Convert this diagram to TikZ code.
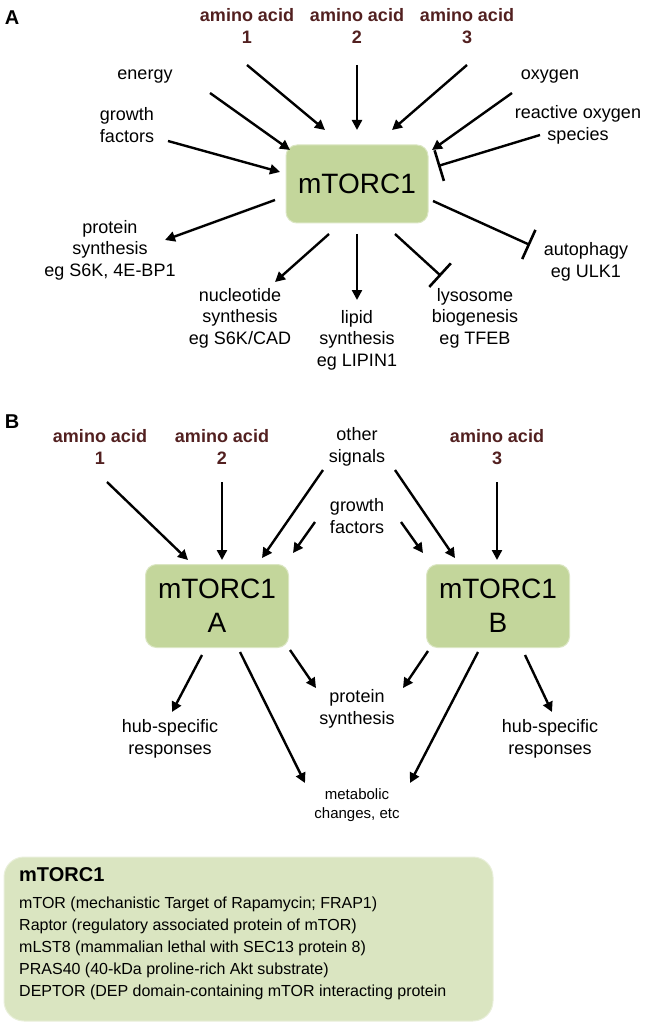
\documentclass[tikz,border=0pt]{standalone}
\usepackage{fontspec}
\setmainfont{Liberation Sans}
\usetikzlibrary{arrows.meta}
\definecolor{boxgreen}{HTML}{C3D69B}
\definecolor{panelgreen}{HTML}{DAE5C1}
\definecolor{aacol}{HTML}{522020}
\begin{document}
\begin{tikzpicture}[x=1pt,y=-1pt,
  lbl/.style={font=\fontsize{18}{21.5}\selectfont, align=center, inner sep=0pt},
  aa/.style={font=\fontsize{18}{22}\selectfont\bfseries, text=aacol, align=center, inner sep=0pt},
  small/.style={font=\fontsize{15}{19}\selectfont, align=center, inner sep=0pt},
  panel/.style={font=\fontsize{20}{24}\selectfont\bfseries, inner sep=0pt},
  hub/.style={rounded corners=11pt, fill=boxgreen, draw=boxgreen!60!white, line width=1pt,
     minimum width=142pt, minimum height=78pt, font=\fontsize{28}{34}\selectfont, align=center, inner sep=0pt},
  arr/.style={-{Triangle[length=10pt,width=10pt]}, line width=2.4pt},
  inh/.style={-{Bar[width=32pt,line width=2.6pt]}, line width=2.4pt}]
\useasboundingbox (0,0) rectangle (660,1024);
% ---------------- Panel A ----------------
\node[panel] (pA) at (12,18) {A};
\node[hub] (m) at (357,184) {mTORC1};
\node[aa] (a1) at (247,26) {amino acid\\1};
\node[aa] (a2) at (357,26) {amino acid\\2};
\node[aa] (a3) at (467,26) {amino acid\\3};
\node[lbl] (en) at (145,77) {energy};
\node[lbl] (ox) at (550,77) {oxygen};
\node[lbl] (gf) at (127,125) {growth\\factors};
\node[lbl] (ros) at (578,125) {reactive oxygen\\species};
\node[lbl] (ps) at (110,250) {protein\\synthesis\\eg S6K, 4E-BP1};
\node[lbl] (ns) at (240,318) {nucleotide\\synthesis\\eg S6K/CAD};
\node[lbl] (ls) at (357,340) {lipid\\synthesis\\eg LIPIN1};
\node[lbl] (lb) at (475,318) {lysosome\\biogenesis\\eg TFEB};
\node[lbl] (au) at (586,262) {autophagy\\eg ULK1};
\coordinate (a1s) at (247,65);  \coordinate (a1e) at (325,130);
\coordinate (a2s) at (357,65);  \coordinate (a2e) at (357,130);
\coordinate (a3s) at (467,65);  \coordinate (a3e) at (392,130);
\coordinate (ens) at (210,93);  \coordinate (ene) at (290,150);
\coordinate (gfs) at (168,141); \coordinate (gfe) at (280,172);
\coordinate (oxs) at (512,93);  \coordinate (oxe) at (432,150);
\coordinate (ross) at (540,135); \coordinate (rose) at (438,166);
\coordinate (pss) at (275,200); \coordinate (pse) at (165,240);
\coordinate (nss) at (329,234); \coordinate (nse) at (275,282);
\coordinate (lss) at (357,234); \coordinate (lse) at (357,300);
\coordinate (lbs) at (395,234); \coordinate (lbe) at (441,276);
\coordinate (aus) at (433,201); \coordinate (aue) at (530,245);
\draw[arr] (a1s) -- (a1e);
\draw[arr] (a2s) -- (a2e);
\draw[arr] (a3s) -- (a3e);
\draw[arr] (ens) -- (ene);
\draw[arr] (gfs) -- (gfe);
\draw[arr] (oxs) -- (oxe);
\draw[inh] (ross) -- (rose);
\draw[arr] (pss) -- (pse);
\draw[arr] (nss) -- (nse);
\draw[arr] (lss) -- (lse);
\draw[inh] (lbs) -- (lbe);
\draw[inh] (aus) -- (aue);
% ---------------- Panel B ----------------
\node[panel] (pB) at (12,422) {B};
\node[hub, minimum width=143pt, minimum height=83pt] (hA) at (217,606) {mTORC1\\A};
\node[hub, minimum width=143pt, minimum height=83pt] (hB) at (498,606) {mTORC1\\B};
\node[aa] (b1) at (100,447) {amino acid\\1};
\node[aa] (b2) at (222,447) {amino acid\\2};
\node[lbl] (os) at (357,447) {other\\signals};
\node[aa] (b3) at (497,447) {amino acid\\3};
\node[lbl] (bgf) at (357,516) {growth\\factors};
\node[lbl] (hub1) at (170,739) {hub-specific\\responses};
\node[lbl] (bps) at (357,709) {protein\\synthesis};
\node[lbl] (hub2) at (550,739) {hub-specific\\responses};
\node[small] (met) at (357,805) {metabolic\\changes, etc};
\coordinate (b1s) at (107,482); \coordinate (b1e) at (188,560);
\coordinate (b2s) at (222,482); \coordinate (b2e) at (222,560);
\coordinate (osAs) at (323,470); \coordinate (osAe) at (262,558);
\coordinate (gfAs) at (315,522); \coordinate (gfAe) at (293,553);
\coordinate (gfBs) at (401,522); \coordinate (gfBe) at (423,553);
\coordinate (osBs) at (395,470); \coordinate (osBe) at (455,558);
\coordinate (b3s) at (497,482); \coordinate (b3e) at (497,560);
\coordinate (h1s) at (202,655); \coordinate (h1e) at (172,712);
\coordinate (mAs) at (240,652); \coordinate (mAe) at (305,783);
\coordinate (pAs) at (290,650); \coordinate (pAe) at (316,688);
\coordinate (pBs) at (428,651); \coordinate (pBe) at (403,688);
\coordinate (mBs) at (478,652); \coordinate (mBe) at (410,783);
\coordinate (h2s) at (525,655); \coordinate (h2e) at (552,712);
\draw[arr] (b1s) -- (b1e);
\draw[arr] (b2s) -- (b2e);
\draw[arr] (osAs) -- (osAe);
\draw[arr] (gfAs) -- (gfAe);
\draw[arr] (gfBs) -- (gfBe);
\draw[arr] (osBs) -- (osBe);
\draw[arr] (b3s) -- (b3e);
\draw[arr] (h1s) -- (h1e);
\draw[arr] (mAs) -- (mAe);
\draw[arr] (pAs) -- (pAe);
\draw[arr] (pBs) -- (pBe);
\draw[arr] (mBs) -- (mBe);
\draw[arr] (h2s) -- (h2e);
% ---------------- Legend box ----------------
\node[fill=panelgreen, draw=panelgreen!60!white, line width=1pt, rounded corners=20pt,
      minimum width=489pt, minimum height=164pt, inner sep=0pt] (leg) at (248.5,939) {};
\node[anchor=west, font=\fontsize{20}{22}\selectfont\bfseries, inner sep=0pt] (legt) at (19,875) {mTORC1};
\node[anchor=north west, font=\fontsize{16}{22}\selectfont, align=left, inner sep=0pt] (legb) at (19,897)
 {mTOR (mechanistic Target of Rapamycin; FRAP1)\\
  Raptor (regulatory associated protein of mTOR)\\
  mLST8 (mammalian lethal with SEC13 protein 8)\\
  PRAS40 (40-kDa proline-rich Akt substrate)\\
  DEPTOR (DEP domain-containing mTOR interacting protein};
\end{tikzpicture}
\end{document}
